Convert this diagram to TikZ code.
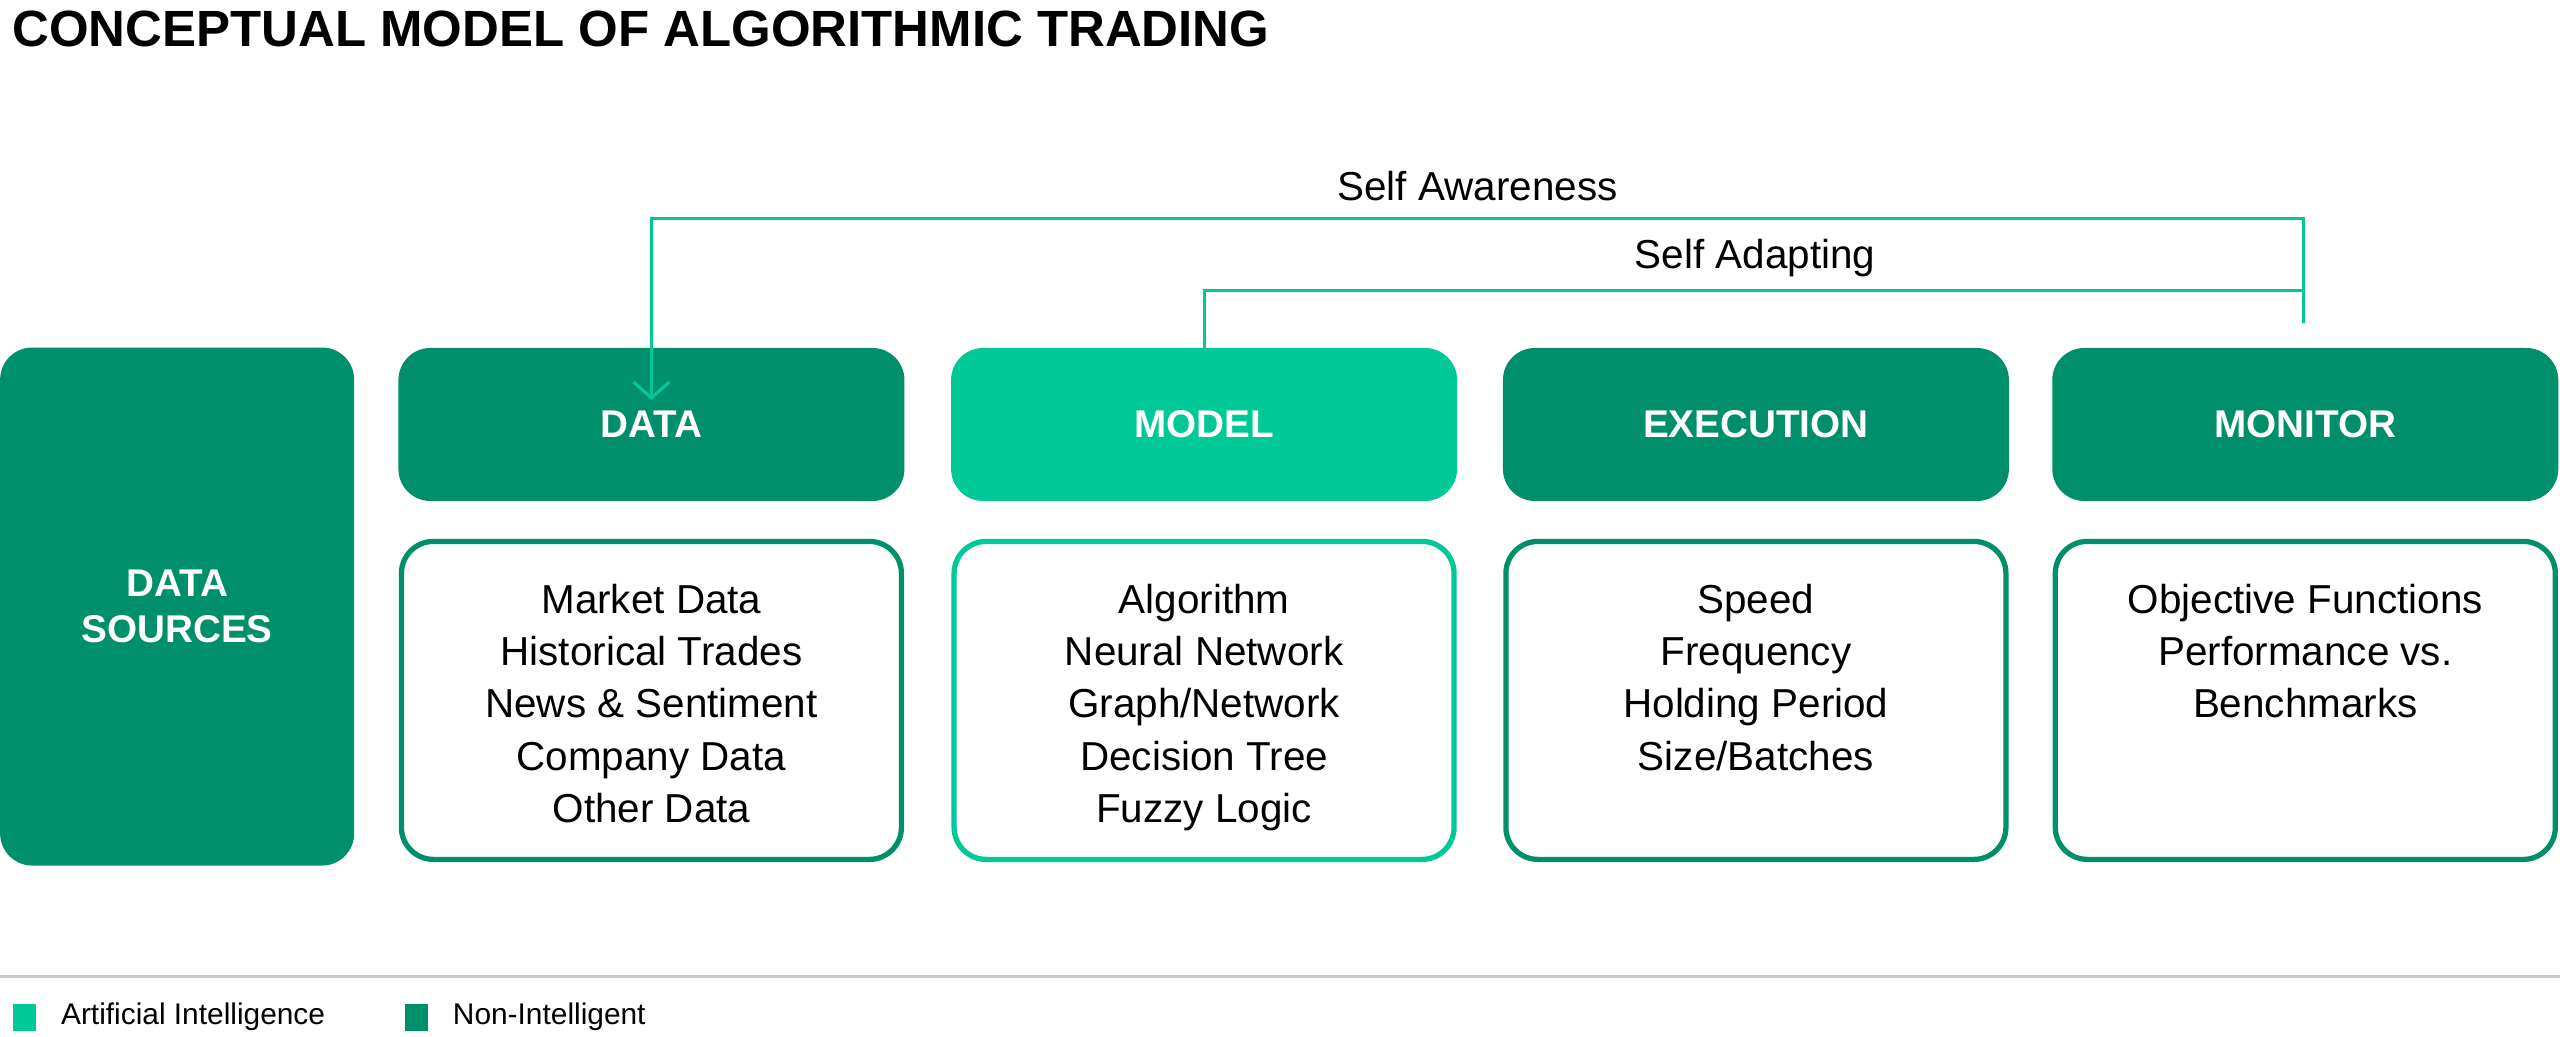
\documentclass[tikz,border=0pt]{standalone}
\usepackage{fontspec}
\setmainfont{Liberation Sans}
\usetikzlibrary{positioning,arrows.meta}
\definecolor{darkgreen}{HTML}{008F6B}
\definecolor{aigreen}{HTML}{00C896}
\definecolor{rulegray}{HTML}{C8C8C8}
\tikzset{
  headbox/.style={fill=#1, text=white, rounded corners=3.2mm, minimum width=5.06cm, minimum height=1.53cm, inner sep=0pt, font=\bfseries\fontsize{11}{13}\selectfont},
  bodybox/.style={draw=#1, line width=1.5pt, fill=white, rounded corners=3.2mm, minimum width=5.0cm, minimum height=3.18cm, inner sep=0pt, align=center, font=\fontsize{11.5}{14.9}\selectfont},
  loopline/.style={draw=aigreen, line width=0.9pt, -{Straight Barb[length=1.6mm,width=3.6mm]}},
  keybox/.style={fill=#1, minimum width=0.23cm, minimum height=0.27cm, inner sep=0pt}
}
\begin{document}
\begin{tikzpicture}[x=0.01633cm, y=-0.01633cm]
  \useasboundingbox (0,0) rectangle (1568,635);
  % title
  \node [anchor=west, font=\bfseries\fontsize{14.5}{16}\selectfont] (title) at (0,18) {CONCEPTUAL MODEL OF ALGORITHMIC TRADING};
  % source column
  \node [headbox=darkgreen, minimum width=3.54cm, minimum height=5.18cm, align=center] (sources) at (108.5,371.5) {DATA\\SOURCES};
  % header boxes
  \node [headbox=darkgreen] (data) at (399,260) {DATA};
  \node [headbox=aigreen] (model) at (737.5,260) {MODEL};
  \node [headbox=darkgreen] (execution) at (1075.5,260) {EXECUTION};
  \node [headbox=darkgreen] (monitor) at (1412,260) {MONITOR};
  % body boxes
  \node [bodybox=darkgreen, anchor=north, text depth=0pt] (databody) at (399,330) {};
  \node [bodybox=aigreen, anchor=north] (modelbody) at (737.5,330) {};
  \node [bodybox=darkgreen, anchor=north] (executionbody) at (1075.5,330) {};
  \node [bodybox=darkgreen, anchor=north] (monitorbody) at (1412,330) {};
  \node [align=center, anchor=north, font=\fontsize{11.5}{14.9}\selectfont] (datatext) at (399,350) {Market Data\\Historical Trades\\News \& Sentiment\\Company Data\\Other Data};
  \node [align=center, anchor=north, font=\fontsize{11.5}{14.9}\selectfont] (modeltext) at (737.5,350) {Algorithm\\Neural Network\\Graph/Network\\Decision Tree\\Fuzzy Logic};
  \node [align=center, anchor=north, font=\fontsize{11.5}{14.9}\selectfont] (executiontext) at (1075.5,350) {Speed\\Frequency\\Holding Period\\Size/Batches};
  \node [align=center, anchor=north, font=\fontsize{11.5}{14.9}\selectfont] (monitortext) at (1412,350) {Objective Functions\\Performance vs.\\Benchmarks};
  % feedback loops
  \coordinate (awarestart) at (1411,198);
  \coordinate (adaptstart) at (1411,178);
  \draw [loopline] (awarestart) -- (1411,134) -| ([yshift=-15]data.north);
  \draw [loopline] (adaptstart) -| ([yshift=-15]model.north);
  \node [font=\fontsize{11.5}{14}\selectfont] (awarelabel) at (905,114) {Self Awareness};
  \node [font=\fontsize{11.5}{14}\selectfont] (adaptlabel) at (1075,158) {Self Adapting};
  % legend
  \coordinate (rulea) at (0,598);
  \coordinate (ruleb) at (1568,598);
  \draw [rulegray, line width=1pt] (rulea) -- (ruleb);
  \node [keybox=aigreen] (aikey) at (15,623) {};
  \node [right=0.12cm of aikey, font=\fontsize{8.5}{10}\selectfont] (ailabel) {Artificial Intelligence};
  \node [keybox=darkgreen] (nikey) at (255,623) {};
  \node [right=0.12cm of nikey, font=\fontsize{8.5}{10}\selectfont] (nilabel) {Non-Intelligent};
\end{tikzpicture}
\end{document}
